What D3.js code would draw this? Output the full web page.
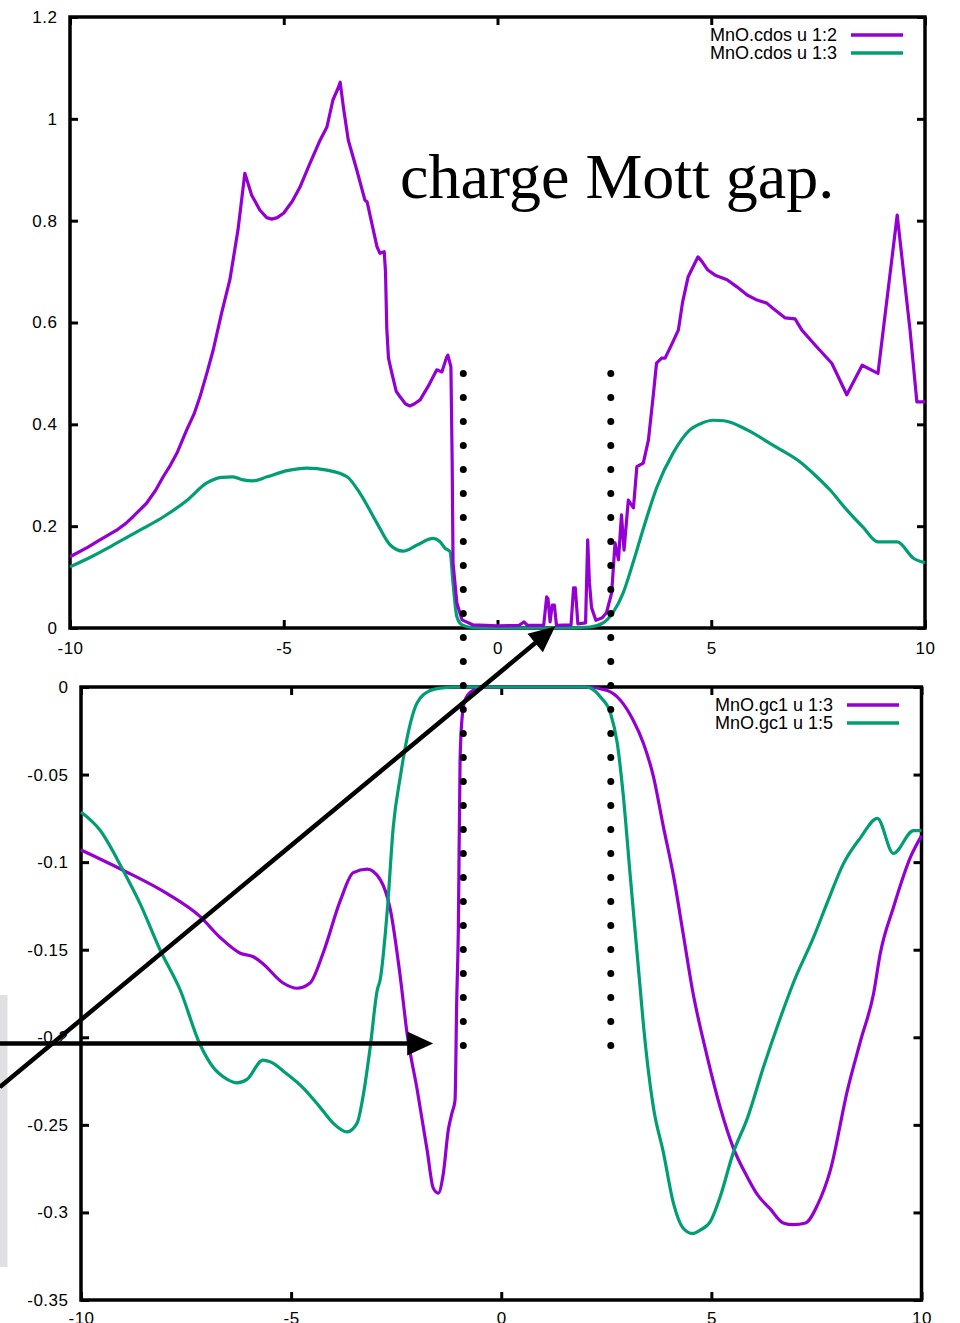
<!DOCTYPE html>
<html>
<head>
<meta charset="utf-8">
<script src="https://cdn.jsdelivr.net/npm/d3@7"></script>
<style>
body { margin: 0; background: #fff; }
</style>
</head>
<body>
<svg id="chart" width="960" height="1323" font-family="Liberation Sans, Arial, sans-serif"></svg>
<script>
// top panel: MnO.cdos
const cdos12 = [[-10,0.140],[-9.6,0.158],[-9.3,0.173],[-8.91,0.192],[-8.7,0.205],[-8.52,0.219],[-8.21,0.245],[-8.0,0.27],[-7.82,0.297],[-7.65,0.32],[-7.50,0.343],[-7.27,0.389],[-7.1,0.42],[-6.96,0.454],[-6.8,0.50],[-6.65,0.546],[-6.45,0.62],[-6.26,0.684],[-6.07,0.782],[-5.91,0.893],[-5.75,0.85],[-5.56,0.821],[-5.4,0.806],[-5.28,0.803],[-5.15,0.806],[-5.0,0.815],[-4.8,0.838],[-4.62,0.866],[-4.4,0.91],[-4.15,0.958],[-3.99,0.984],[-3.85,1.037],[-3.72,1.062],[-3.68,1.072],[-3.6,1.02],[-3.49,0.958],[-3.29,0.899],[-3.10,0.840],[-3.05,0.837],[-2.82,0.749],[-2.75,0.736],[-2.65,0.739],[-2.62,0.70],[-2.59,0.589],[-2.55,0.53],[-2.47,0.500],[-2.37,0.465],[-2.28,0.454],[-2.15,0.440],[-2.05,0.436],[-1.95,0.440],[-1.81,0.448],[-1.62,0.475],[-1.42,0.507],[-1.30,0.503],[-1.19,0.532],[-1.16,0.536],[-1.09,0.513],[-1.06,0.324],[-1.04,0.128],[-0.95,0.049],[-0.83,0.016],[-0.57,0.006],[0,0.004],[0.5,0.005],[0.62,0.012],[0.7,0.005],[1.08,0.005],[1.15,0.061],[1.18,0.058],[1.23,0.012],[1.28,0.045],[1.33,0.045],[1.38,0.005],[1.72,0.006],[1.78,0.079],[1.82,0.079],[1.88,0.008],[2.06,0.01],[2.11,0.173],[2.15,0.09],[2.2,0.04],[2.3,0.015],[2.45,0.02],[2.55,0.03],[2.67,0.069],[2.75,0.167],[2.83,0.134],[2.90,0.222],[2.96,0.153],[3.06,0.251],[3.18,0.236],[3.26,0.317],[3.41,0.324],[3.53,0.369],[3.64,0.454],[3.72,0.520],[3.84,0.530],[3.92,0.530],[4.07,0.556],[4.23,0.585],[4.33,0.64],[4.46,0.690],[4.69,0.729],[4.78,0.72],[4.92,0.703],[5.09,0.693],[5.37,0.684],[5.6,0.67],[5.84,0.654],[6.07,0.644],[6.30,0.638],[6.44,0.628],[6.73,0.609],[6.96,0.607],[7.12,0.585],[7.47,0.552],[7.82,0.520],[8.17,0.458],[8.53,0.516],[8.90,0.500],[9.35,0.811],[9.65,0.585],[9.81,0.444],[10,0.444]];
const cdos13 = [[-10,0.120],[-9.5,0.14],[-8.9,0.167],[-8.3,0.195],[-7.82,0.218],[-7.26,0.251],[-6.80,0.285],[-6.45,0.296],[-6.19,0.297],[-5.95,0.291],[-5.72,0.289],[-5.39,0.297],[-4.92,0.309],[-4.46,0.314],[-3.99,0.310],[-3.52,0.297],[-3.22,0.265],[-2.82,0.206],[-2.51,0.163],[-2.21,0.151],[-1.88,0.163],[-1.51,0.176],[-1.35,0.170],[-1.23,0.157],[-1.11,0.150],[-1.04,0.088],[-0.95,0.022],[-0.83,0.006],[-0.6,0.001],[0,0],[1.5,0],[2.16,0.002],[2.47,0.01],[2.70,0.03],[2.94,0.069],[3.17,0.128],[3.40,0.192],[3.73,0.277],[4.11,0.344],[4.50,0.389],[4.8,0.403],[5.04,0.408],[5.3,0.407],[5.84,0.389],[6.44,0.359],[7.08,0.326],[7.38,0.304],[7.78,0.271],[8.17,0.232],[8.55,0.198],[8.90,0.169],[9.35,0.169],[9.73,0.137],[10,0.128]];

// bottom panel: MnO.gc1
const gc13 = [[-10,-0.093],[-9.0,-0.1046],[-7.95,-0.118],[-7.17,-0.131],[-6.69,-0.143],[-6.21,-0.152],[-5.90,-0.154],[-5.67,-0.158],[-5.19,-0.169],[-4.86,-0.172],[-4.55,-0.169],[-4.24,-0.152],[-3.83,-0.122],[-3.52,-0.106],[-3.19,-0.104],[-2.88,-0.110],[-2.64,-0.127],[-2.40,-0.166],[-2.24,-0.198],[-2.0,-0.230],[-1.76,-0.265],[-1.62,-0.286],[-1.5,-0.289],[-1.38,-0.278],[-1.26,-0.253],[-1.17,-0.243],[-1.10,-0.236],[-1.06,-0.18],[-1.02,-0.137],[-0.98,-0.042],[-0.93,-0.017],[-0.86,-0.0074],[-0.67,-0.002],[-0.3,0],[2.0,0],[2.52,-0.002],[2.83,-0.0074],[3.14,-0.019],[3.38,-0.032],[3.62,-0.051],[3.86,-0.080],[4.10,-0.108],[4.33,-0.141],[4.55,-0.173],[4.90,-0.211],[5.21,-0.240],[5.52,-0.263],[5.86,-0.280],[6.10,-0.290],[6.40,-0.298],[6.71,-0.306],[6.95,-0.307],[7.24,-0.306],[7.52,-0.296],[7.83,-0.276],[8.24,-0.230],[8.55,-0.202],[8.86,-0.175],[9.02,-0.152],[9.33,-0.126],[9.74,-0.097],[10,-0.085]];
const gc15 = [[-10,-0.0714],[-9.55,-0.0817],[-9.0,-0.1046],[-8.6,-0.1234],[-8.12,-0.150],[-7.64,-0.173],[-7.17,-0.204],[-6.86,-0.217],[-6.52,-0.224],[-6.29,-0.226],[-6.05,-0.224],[-5.67,-0.213],[-5.50,-0.214],[-5.10,-0.221],[-4.71,-0.229],[-4.31,-0.240],[-4.0,-0.249],[-3.67,-0.254],[-3.43,-0.249],[-3.29,-0.234],[-3.12,-0.206],[-2.95,-0.173],[-2.88,-0.167],[-2.71,-0.127],[-2.57,-0.080],[-2.40,-0.051],[-2.24,-0.029],[-2.0,-0.009],[-1.69,-0.002],[-1.45,-0.0006],[-1,0],[2.0,0],[2.12,-0.0006],[2.36,-0.0057],[2.60,-0.015],[2.76,-0.032],[2.90,-0.061],[3.07,-0.108],[3.31,-0.173],[3.38,-0.192],[3.62,-0.240],[3.86,-0.266],[4.10,-0.295],[4.33,-0.309],[4.55,-0.312],[4.74,-0.310],[4.98,-0.305],[5.21,-0.291],[5.52,-0.266],[5.86,-0.246],[6.24,-0.217],[6.64,-0.189],[6.95,-0.169],[7.43,-0.143],[7.76,-0.123],[8.14,-0.101],[8.55,-0.086],[8.95,-0.075],[9.33,-0.095],[9.81,-0.082],[10,-0.082]];

const xTicks = [-10, -5, 0, 5, 10];
const topYTicks = [0, 0.2, 0.4, 0.6, 0.8, 1, 1.2];
const botYTicks = [-0.35, -0.3, -0.25, -0.2, -0.15, -0.1, -0.05, 0];
const topLegend = ["MnO.cdos u 1:2", "MnO.cdos u 1:3"];
const botLegend = ["MnO.gc1 u 1:3", "MnO.gc1 u 1:5"];

// annotations: gap edges (top panel x), dotted from top y to bottom y
const gapEdges = [-0.80, 2.65];
const gapTop = 0.5, gapBottom = -0.205;
// arrows: start in bottom panel units, end either panel
const arrows = [
  {x0: -11.93, y0: -0.2284, panel: "top", x1: 1.35, y1: 0.003},
  {x0: -11.93, y0: -0.2036, panel: "bot", x1: -1.62, y1: -0.2036}
];

const purple = "#9400d3", green = "#009e73";
const svg = d3.select("#chart");

const topX = d3.scaleLinear().domain([-10, 10]).range([70, 925]);
const topY = d3.scaleLinear().domain([0, 1.2]).range([628, 17]);
const botX = d3.scaleLinear().domain([-10, 10]).range([81, 921.5]);
const botY = d3.scaleLinear().domain([-0.35, 0]).range([1300, 687]);

const fmt = d => String(+d.toFixed(2));

svg.append("rect")
  .attr("x", 0).attr("y", 995).attr("width", 7.5).attr("height", 272)
  .attr("fill", "#e0e0e2");

drawPanel(topX, topY, topYTicks, 13.5);
drawPanel(botX, botY, botYTicks, 12);

function drawPanel(x, y, yTicks, xPad){
  const [x0, x1] = x.range();
  const [y0, y1] = y.range();

  const g = svg.append("g").attr("class", "axes");
  g.append("g").attr("transform", "translate(0," + y0 + ")")
    .call(d3.axisBottom(x).tickValues(xTicks).tickSize(-8).tickPadding(xPad).tickFormat(fmt));
  g.append("g").attr("transform", "translate(0," + y1 + ")")
    .call(d3.axisTop(x).tickValues(xTicks).tickSize(-8).tickFormat(""));
  g.append("g").attr("transform", "translate(" + x0 + ",0)")
    .call(d3.axisLeft(y).tickValues(yTicks).tickSize(-8).tickPadding(12.5).tickFormat(fmt));
  g.append("g").attr("transform", "translate(" + x1 + ",0)")
    .call(d3.axisRight(y).tickValues(yTicks).tickSize(-8).tickFormat(""));

  g.selectAll(".domain").remove();
  g.selectAll("g").attr("font-family", null).attr("font-size", null);
  g.selectAll(".tick line").attr("stroke", "#000").attr("stroke-width", 3);
  g.selectAll(".tick text").attr("fill", "#000").attr("font-size", 17).attr("letter-spacing", 0.5);

  g.append("rect")
    .attr("x", x0).attr("y", y1)
    .attr("width", x1 - x0).attr("height", y0 - y1)
    .attr("fill", "none").attr("stroke", "#000").attr("stroke-width", 3.5);
}

function drawLine(data, x, y, color, curve){
  svg.append("path")
    .datum(data)
    .attr("fill", "none")
    .attr("stroke", color)
    .attr("stroke-width", 3.2)
    .attr("stroke-linejoin", "round")
    .attr("d", d3.line().x(d => x(d[0])).y(d => y(d[1])).curve(curve));
}

drawLine(cdos13, topX, topY, green, d3.curveMonotoneX);
drawLine(cdos12, topX, topY, purple, d3.curveLinear);
drawLine(gc13, botX, botY, purple, d3.curveMonotoneX);
drawLine(gc15, botX, botY, green, d3.curveMonotoneX);

function drawLegend(labels, colors, xText, yRow){
  const leg = svg.append("g")
    .selectAll("g")
    .data(labels)
    .enter()
    .append("g")
    .attr("transform", (d, i) => "translate(0," + (yRow + i * 18) + ")");
  leg.append("text")
    .attr("x", xText)
    .attr("dy", "0.35em")
    .attr("text-anchor", "end")
    .attr("font-size", 18)
    .text(d => d);
  leg.append("line")
    .attr("x1", xText + 14).attr("x2", xText + 66)
    .attr("stroke", (d, i) => colors[i])
    .attr("stroke-width", 3.5);
}

drawLegend(topLegend, [purple, green], 837, 35);
drawLegend(botLegend, [purple, green], 833, 705);

// dotted gap markers
svg.append("g")
  .selectAll("line")
  .data(gapEdges)
  .enter()
  .append("line")
  .attr("x1", d => topX(d)).attr("x2", d => topX(d))
  .attr("y1", topY(gapTop)).attr("y2", botY(gapBottom))
  .attr("stroke", "#000")
  .attr("stroke-width", 7)
  .attr("stroke-linecap", "round")
  .attr("stroke-dasharray", "0 24");

// arrows
arrows.forEach(a => {
  const sx = botX(a.x0), sy = botY(a.y0);
  const ex = a.panel === "top" ? topX(a.x1) : botX(a.x1);
  const ey = a.panel === "top" ? topY(a.y1) : botY(a.y1);
  const len = Math.hypot(ex - sx, ey - sy);
  const ux = (ex - sx) / len, uy = (ey - sy) / len;
  const hl = 26, hw = 12;
  const bx = ex - ux * hl, by = ey - uy * hl;
  svg.append("line")
    .attr("x1", sx).attr("y1", sy).attr("x2", bx + ux * 2).attr("y2", by + uy * 2)
    .attr("stroke", "#000").attr("stroke-width", 4.5);
  svg.append("polygon")
    .attr("points", [[ex, ey], [bx - uy * hw, by + ux * hw], [bx + uy * hw, by - ux * hw]].map(p => p.join(",")).join(" "))
    .attr("fill", "#000");
});

svg.append("text")
  .attr("x", 400).attr("y", 198)
  .attr("font-family", "Liberation Serif, Times New Roman, serif")
  .attr("font-size", 64)
  .text("charge Mott gap.");
</script>
</body>
</html>
